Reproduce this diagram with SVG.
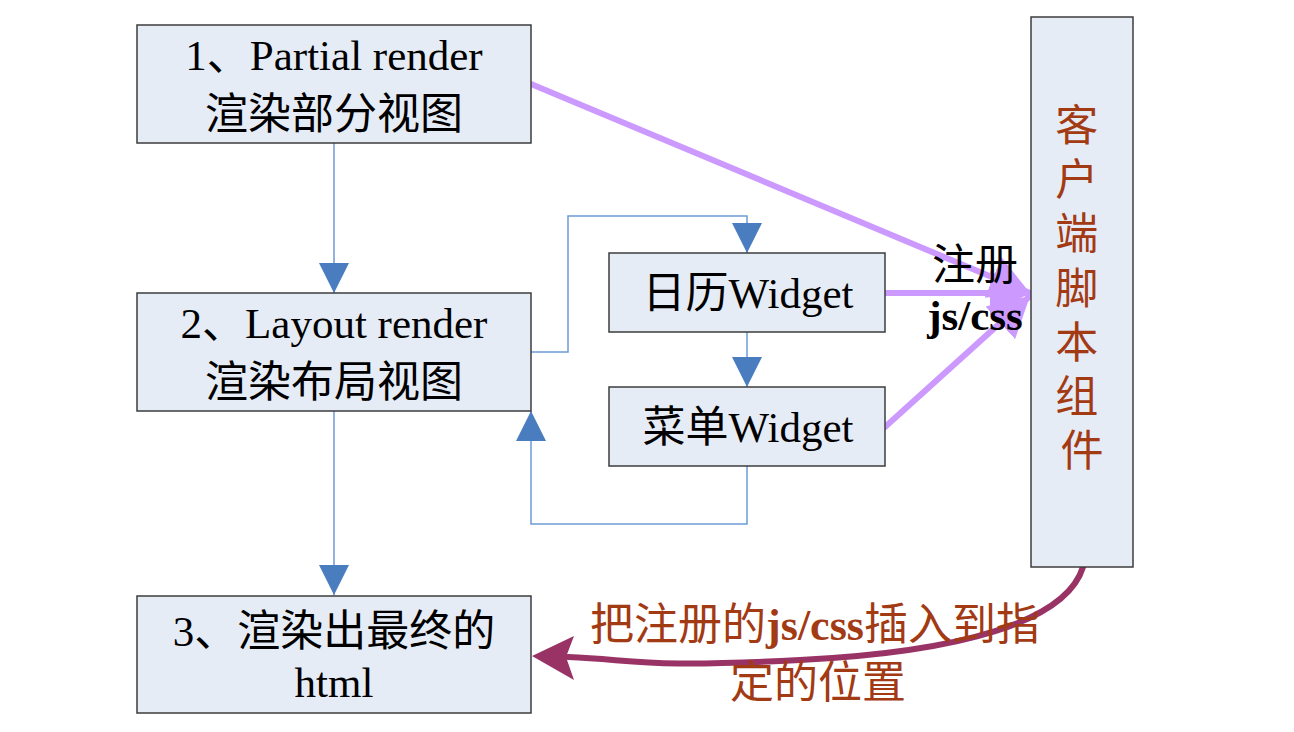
<svg xmlns="http://www.w3.org/2000/svg" width="1294" height="732" viewBox="0 0 1294 732">
<style>
.box{fill:#E6ECF6;stroke:#3C3C3C;stroke-width:1.5}
.t{font-family:"Liberation Serif","Noto Sans CJK SC",serif;font-size:43px;fill:#000;text-anchor:middle}
.red{fill:#A23A14}
.big{font-size:44px}
.b{font-weight:bold}
.blue{fill:none;stroke:#6E9AD6;stroke-width:1.5}
.pur{fill:none;stroke:#CC99FF;stroke-width:6;stroke-linecap:round}
.mar{fill:none;stroke:#993366;stroke-width:6;stroke-linecap:round}
</style>
<defs>
<marker id="ab" markerUnits="userSpaceOnUse" markerWidth="30" markerHeight="30" refX="30" refY="15" orient="auto">
<path d="M0,0 L30,15 L0,30 z" fill="#4A7DC0"/>
</marker>
<marker id="ap" markerUnits="userSpaceOnUse" markerWidth="44" markerHeight="48" refX="40" refY="24" orient="auto">
<path d="M0,2 L40,24 L0,46 z" fill="#CC99FF"/>
</marker>
</defs>
<rect width="1294" height="732" fill="#fff"/>
<g id="connectors">
<path class="blue" d="M334,143 V293" marker-end="url(#ab)"/>
<path class="blue" d="M334,411 V595" marker-end="url(#ab)"/>
<path class="blue" d="M531,352 H568 V216 H747 V253" marker-end="url(#ab)"/>
<path class="blue" d="M747,332 V387" marker-end="url(#ab)"/>
<path class="blue" d="M747,466 V524 H531 V411" marker-end="url(#ab)"/>
<path class="pur" d="M531,84 L1030,293" marker-end="url(#ap)"/>
<path class="pur" d="M885,293 L1030,293" marker-end="url(#ap)"/>
<path class="pur" d="M885,427 L1030,296" marker-end="url(#ap)"/>
<path class="mar" d="M1083,567 C1066,622 960,652 800,660 S640,660 568,657"/>
<polygon points="532,656 574,636 566,657 574,680" fill="#993366"/>
<text class="t" x="975" y="280">注册</text>
<text class="t b" x="975" y="330">js/css</text>
<text class="t red big" x="815" y="640">把注册的<tspan class="b">js/css</tspan>插入到指</text>
<text class="t red big" x="818" y="698">定的位置</text>
</g>
<g id="n1">
<rect class="box" x="137" y="25" width="394" height="118"/>
<text class="t" x="334" y="70">1、Partial render</text>
<text class="t" x="334" y="129">渲染部分视图</text>
</g>
<g id="n2">
<rect class="box" x="137" y="293" width="394" height="118"/>
<text class="t" x="334" y="338">2、Layout render</text>
<text class="t" x="334" y="397">渲染布局视图</text>
</g>
<g id="n3">
<rect class="box" x="137" y="596" width="394" height="117"/>
<text class="t" x="334" y="646">3、渲染出最终的</text>
<text class="t" x="334" y="697">html</text>
</g>
<g id="n4">
<rect class="box" x="609" y="253" width="276" height="79"/>
<text class="t" x="748" y="308">日历Widget</text>
</g>
<g id="n5">
<rect class="box" x="609" y="387" width="276" height="79"/>
<text class="t" x="748" y="442">菜单Widget</text>
</g>
<g id="n6">
<rect class="box" x="1031" y="17" width="102" height="550"/>
<text class="t red" x="1082">
<tspan x="1082" y="141">客</tspan>
<tspan x="1082" y="195">户</tspan>
<tspan x="1082" y="249">端</tspan>
<tspan x="1082" y="304">脚</tspan>
<tspan x="1082" y="358">本</tspan>
<tspan x="1082" y="412">组</tspan>
<tspan x="1082" y="466">件</tspan>
</text>
</g>
</svg>
